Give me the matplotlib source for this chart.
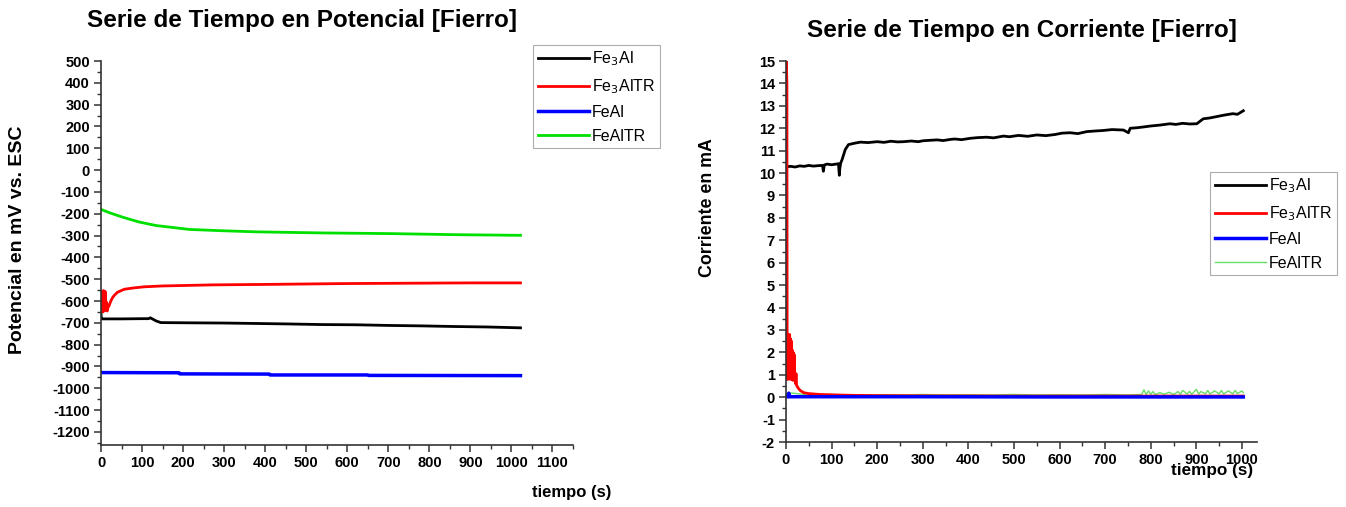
import matplotlib
matplotlib.use("Agg")
import matplotlib.pyplot as plt
from matplotlib.ticker import MultipleLocator

plt.rcParams['font.family'] = ['Liberation Sans', 'DejaVu Sans']
plt.rcParams['axes.unicode_minus'] = False

# ---------------- Potential data (mV vs ESC) ----------------
t_fe3al_p = [0, 0.5, 2, 50, 100, 116, 120, 124, 135, 146, 215, 300, 377, 450, 539, 620, 701, 780, 863, 940, 1022]
v_fe3al_p = [-646, -682, -682, -682, -681, -681, -677, -681, -692, -699, -700, -701, -703, -705, -708, -709, -712, -714, -717, -719, -723]

t_fe3altr_p = [0, 1, 2, 3, 4, 5, 6, 7, 8, 9, 10, 11, 12, 13, 14, 15, 17, 20, 24, 28, 32, 40, 57, 80, 105, 150, 276, 400, 500, 600, 700, 800, 900, 1000, 1022]
v_fe3altr_p = [-560, -645, -555, -640, -560, -650, -552, -640, -560, -645, -556, -635, -600, -640, -610, -646, -630, -620, -600, -585, -575, -560, -546, -540, -535, -531, -526, -524, -522, -520, -519, -518, -517, -517, -517]

t_feal_p = [0, 190, 192, 410, 412, 650, 652, 1022]
v_feal_p = [-928, -929, -934, -935, -939, -939, -941, -942]

t_fealtr_p = [0, 20, 53, 93, 134, 215, 296, 377, 539, 701, 863, 1022]
v_fealtr_p = [-180, -195, -216, -238, -254, -272, -278, -283, -288, -291, -296, -299]

# ---------------- Current data (mA) ----------------
t_fe3al_i = [0, 10, 20, 30, 40, 50, 60, 70, 80, 82, 84, 90, 100, 110, 115, 117, 118, 120, 123, 130, 137, 150, 163,
             180, 200, 215, 230, 245, 258, 275, 290, 300, 315, 331, 345, 360, 370, 385, 404, 420, 440, 455, 477,
             490, 510, 530, 550, 570, 590, 605, 623, 640, 660, 680, 696, 715, 740, 751, 755, 769, 785, 800, 820,
             842, 855, 870, 885, 901, 915, 930, 952, 965, 980, 990, 1003]
v_fe3al_i = [10.28, 10.3, 10.27, 10.32, 10.3, 10.34, 10.31, 10.33, 10.34, 10.08, 10.36, 10.40, 10.37, 10.40, 10.42, 9.9, 10.2, 10.45, 10.6, 11.05, 11.27, 11.33, 11.38,
             11.36, 11.40, 11.37, 11.42, 11.39, 11.40, 11.43, 11.40, 11.44, 11.46, 11.48, 11.45, 11.50, 11.52, 11.49, 11.55, 11.58, 11.6, 11.57, 11.65,
             11.62, 11.68, 11.64, 11.7, 11.67, 11.72, 11.78, 11.8, 11.76, 11.85, 11.88, 11.9, 11.94, 11.92, 11.8, 12.0, 12.02, 12.06, 12.1, 12.14,
             12.2, 12.17, 12.22, 12.19, 12.2, 12.42, 12.46, 12.55, 12.6, 12.65, 12.62, 12.78]

t_fe3altr_i = [0, 0.3, 1, 2, 2.5, 3, 4, 5, 6, 7, 8, 9, 10, 11, 12, 13, 14, 15, 16, 17, 18, 19, 20, 21, 22, 23, 24, 27, 31, 39, 50, 75, 110, 150, 200, 300, 500, 700, 900, 1003]
v_fe3altr_i = [0.8, 15.0, 14.8, 14.0, 2.8, 0.8, 2.8, 0.85, 2.7, 0.8, 2.8, 0.9, 2.6, 0.8, 2.5, 0.8, 2.1, 0.75, 2.0, 0.8, 1.9, 0.75, 1.0, 0.6, 1.05, 0.55, 0.5, 0.4, 0.3, 0.2, 0.16, 0.12, 0.1, 0.08, 0.07, 0.06, 0.05, 0.05, 0.05, 0.05]

t_fealtr_i = [0, 5, 50, 100, 150, 200, 250, 300, 350, 400, 450, 500, 550, 600, 650, 700, 750, 780, 785, 790, 795, 800, 805, 810, 820, 830, 840, 850, 860, 865, 870, 880, 885, 890, 900, 905, 910, 920, 925, 930, 940, 950, 955, 960, 970, 980, 985, 990, 1000, 1003]
v_fealtr_i = [0.1, 0.2, 0.1, 0.12, 0.1, 0.11, 0.1, 0.12, 0.1, 0.11, 0.1, 0.12, 0.1, 0.11, 0.1, 0.12, 0.1, 0.12, 0.33, 0.12, 0.28, 0.13, 0.25, 0.12, 0.2, 0.13, 0.22, 0.12, 0.25, 0.13, 0.3, 0.14, 0.26, 0.13, 0.35, 0.14, 0.25, 0.15, 0.3, 0.14, 0.28, 0.15, 0.3, 0.14, 0.28, 0.15, 0.3, 0.16, 0.28, 0.2]

t_feal_i = [0, 5, 6, 7, 300, 600, 900, 1003]
v_feal_i = [0.02, 0.02, 0.18, 0.02, 0.02, 0.01, 0.01, 0.01]

labels = ['Fe$_3$Al', 'Fe$_3$AlTR', 'FeAl', 'FeAlTR']
colors = ['#000000', '#ff0000', '#0000ff', '#00e000']

W, H = 1346, 507
fig = plt.figure(figsize=(W / 100, H / 100), dpi=100)

def fx(px):
    return px / W

def fy(py):
    return 1 - py / H

def style_axes(ax):
    for s in ['top', 'right']:
        ax.spines[s].set_visible(False)
    for s in ['left', 'bottom']:
        ax.spines[s].set_linewidth(1.2)
        ax.spines[s].set_color('#333333')
    ax.tick_params(which='major', direction='out', length=5, width=1.1, color='#333333',
                   labelsize=10.5, pad=3)
    ax.tick_params(which='minor', direction='out', length=3, width=1.0, color='#333333')
    for lab in ax.get_xticklabels() + ax.get_yticklabels():
        lab.set_fontweight('bold')

# ---------------- Left: potential ----------------
ax1 = fig.add_axes([fx(101), fy(445), fx(573 - 101), (445 - 61) / H])
ax1.plot(t_fe3al_p, v_fe3al_p, color=colors[0], lw=2, label=labels[0])
ax1.plot(t_fe3altr_p, v_fe3altr_p, color=colors[1], lw=2, label=labels[1])
ax1.plot(t_feal_p, v_feal_p, color=colors[2], lw=2.5, label=labels[2])
ax1.plot(t_fealtr_p, v_fealtr_p, color=colors[3], lw=2, label=labels[3])
ax1.set_xlim(0, 1150)
ax1.xaxis.set_major_locator(MultipleLocator(100))
ax1.xaxis.set_minor_locator(MultipleLocator(50))
ax1.yaxis.set_major_locator(MultipleLocator(100))
ax1.yaxis.set_minor_locator(MultipleLocator(50))
ax1.set_ylim(-1260, 500)
style_axes(ax1)
leg1 = ax1.legend(loc='upper left', bbox_to_anchor=(fx(533), fy(45)), bbox_transform=fig.transFigure,
                  borderaxespad=0, fancybox=False, edgecolor='#999999', fontsize=11.5,
                  handlelength=3.2, handletextpad=0.2, labelspacing=0.55, borderpad=0.3)
leg1.get_frame().set_linewidth(0.8)

fig.text(fx(302), fy(20), 'Serie de Tiempo en Potencial [Fierro]', ha='center', va='center',
         fontsize=17.5, fontweight='bold')
fig.text(fx(18), fy(240), 'Potencial en mV vs. ESC', ha='center', va='center', rotation=90,
         fontsize=14, fontweight='bold')
fig.text(fx(572), fy(493), 'tiempo (s)', ha='center', va='center', fontsize=12, fontweight='bold')

# ---------------- Right: current ----------------
ax2 = fig.add_axes([fx(786), fy(442), fx(1257 - 786), (442 - 61) / H])
ax2.plot(t_fe3al_i, v_fe3al_i, color=colors[0], lw=2, label=labels[0])
ax2.plot(t_fe3altr_i, v_fe3altr_i, color=colors[1], lw=2, label=labels[1])
ax2.plot(t_feal_i, v_feal_i, color=colors[2], lw=2.5, label=labels[2])
ax2.plot(t_fealtr_i, v_fealtr_i, color='#66dd66', lw=1, label=labels[3])
ax2.lines[3].set_zorder(1.5)
ax2.set_xlim(0, 1033)
ax2.set_ylim(-2, 15)
ax2.xaxis.set_major_locator(MultipleLocator(100))
ax2.xaxis.set_minor_locator(MultipleLocator(50))
ax2.yaxis.set_major_locator(MultipleLocator(1))
ax2.yaxis.set_minor_locator(MultipleLocator(0.5))
style_axes(ax2)
leg2 = ax2.legend(loc='upper left', bbox_to_anchor=(fx(1210), fy(172)), bbox_transform=fig.transFigure,
                  borderaxespad=0, fancybox=False, edgecolor='#999999', fontsize=11.5,
                  handlelength=3.2, handletextpad=0.2, labelspacing=0.55, borderpad=0.3)
leg2.get_frame().set_linewidth(0.8)

fig.text(fx(1022), fy(30), 'Serie de Tiempo en Corriente [Fierro]', ha='center', va='center',
         fontsize=17.5, fontweight='bold')
fig.text(fx(708), fy(208), 'Corriente en mA', ha='center', va='center', rotation=90,
         fontsize=12.8, fontweight='bold')
fig.text(fx(1212), fy(470), 'tiempo (s)', ha='center', va='center', fontsize=12.3, fontweight='bold')

fig.savefig('out.png', dpi=100)
